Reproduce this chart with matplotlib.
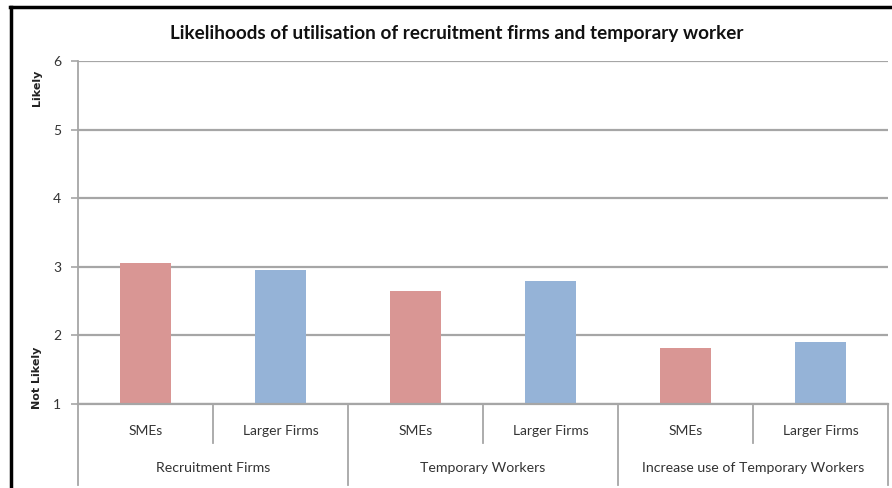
import matplotlib
matplotlib.use("Agg")
import matplotlib.pyplot as plt
from matplotlib.lines import Line2D
from matplotlib.transforms import blended_transform_factory

# Data
groups = ["Recruitment Firms", "Temporary Workers", "Increase use of Temporary Workers"]
firm_types = ["SMEs", "Larger Firms"]
sme_values = [3.06, 2.65, 1.81]
larger_values = [2.95, 2.80, 1.90]
y_ticks = [1, 2, 3, 4, 5, 6]

pink = "#D99694"
blue = "#95B3D7"
grid_col = "#A6A6A6"
text_col = "#333333"

plt.rcParams["font.family"] = ["Lato", "DejaVu Sans"]

fig = plt.figure(figsize=(8.92, 4.88), dpi=100)
W, H = 892, 488
left, right, y1, y6 = 78, 888, 404, 61
ax = fig.add_axes([left / W, (H - y1) / H, (right - left) / W, (y1 - y6) / H])

# Bars: SMEs / Larger Firms alternating within each group
xs, vals, cols, labels = [], [], [], []
for g in range(len(groups)):
    for k, (v, c) in enumerate([(sme_values[g], pink), (larger_values[g], blue)]):
        xs.append(2 * g + k)
        vals.append(v)
        cols.append(c)
        labels.append(firm_types[k])
base = y_ticks[0]
ax.bar(xs, [v - base for v in vals], bottom=base, width=0.385, color=cols,
       edgecolor="none", zorder=3)

ax.set_xlim(-0.5, len(xs) - 0.5)
ax.set_ylim(y_ticks[0], y_ticks[-1])
ax.set_yticks(y_ticks)
ax.set_yticklabels([str(t) for t in y_ticks], fontsize=10, color=text_col)
ax.tick_params(axis="y", length=5, width=1.2, color=grid_col, pad=7)
ax.set_xticks([])
ax.grid(axis="y", color=grid_col, linewidth=1.6, zorder=1)
ax.set_axisbelow(True)
for s in ["top", "right", "bottom"]:
    ax.spines[s].set_visible(False)
ax.spines["left"].set_color(grid_col)
ax.spines["left"].set_linewidth(1.3)

# Category axis: baseline, separators and labels below the plot
tr = blended_transform_factory(ax.transData, ax.transAxes)
axh = (y1 - y6)
def ay(py):
    return (y1 - py) / axh

ax.add_line(Line2D([-0.5, len(xs) - 0.5], [0, 0], transform=tr, color=grid_col,
                   linewidth=1.6, clip_on=False, zorder=4))
ax.add_line(Line2D([-0.5, -0.5], [0, ay(485)], transform=tr, color=grid_col,
                   linewidth=1.3, clip_on=False))
for g in range(len(groups)):
    xmid = 2 * g + 0.5
    ax.add_line(Line2D([xmid, xmid], [0, ay(443)], transform=tr, color=grid_col,
                       linewidth=1.3, clip_on=False))
    xe = 2 * g + 1.5
    ax.add_line(Line2D([xe, xe], [0, ay(485)], transform=tr, color=grid_col,
                       linewidth=1.3, clip_on=False))
    ax.text(2 * g + 0.5, ay(468), groups[g], transform=tr, ha="center", va="center",
            fontsize=10.2, color=text_col)
for x, lab in zip(xs, labels):
    ax.text(x, ay(431), lab, transform=tr, ha="center", va="center",
            fontsize=10, color=text_col)

# Axis end annotations
fig.text(37 / W, 1 - 88 / H, "Likely", rotation=90, ha="center", va="center",
         fontsize=8, fontweight="bold", color="#222222", family="DejaVu Sans")
fig.text(37 / W, 1 - 378 / H, "Not Likely", rotation=90, ha="center", va="center",
         fontsize=8, fontweight="bold", color="#222222", family="DejaVu Sans")

fig.text(457 / W, 1 - 33 / H,
         "Likelihoods of utilisation of recruitment firms and temporary worker",
         ha="center", va="center", fontsize=13.6, fontweight="bold", color="#111111")

# Frame around the chart
fig.add_artist(Line2D([10 / W, 1.0], [1 - 6.5 / H, 1 - 6.5 / H], color="black",
                      linewidth=2.5, transform=fig.transFigure))
fig.add_artist(Line2D([10.5 / W, 10.5 / W], [0, 1 - 6.5 / H], color="black",
                      linewidth=2.5, transform=fig.transFigure))

fig.savefig("out.png", dpi=100)
